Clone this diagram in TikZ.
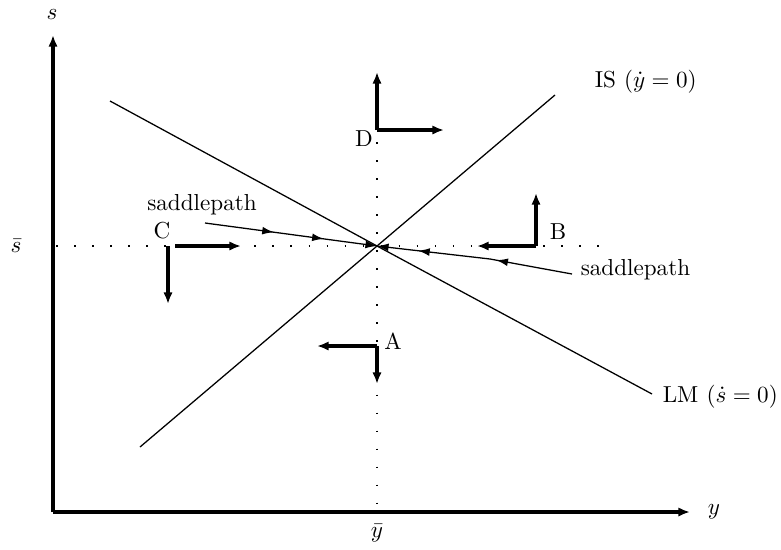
\documentclass[tikz,border=0pt]{standalone}
\usepackage{amsmath}
\usepackage{tikz}
\usetikzlibrary{arrows.meta,positioning,decorations.markings}

\begin{document}
\begin{tikzpicture}[
    x=0.152mm, y=-0.152mm,
    tip/.style={-{Latex[length=5pt,width=4pt]}},
    axis/.style={tip, line width=1.6pt},
    curve/.style={line width=0.55pt},
    guide/.style={line width=0.7pt, dash pattern=on 0.7pt off 7.1pt},
    motion/.style={tip, line width=1.4pt},
    spath/.style={curve, -{Latex[length=5pt,width=3.4pt]}, postaction={decorate}},
    lbl/.style={inner sep=1pt}
]
    \useasboundingbox (0,0) rectangle (781,549);

    % Axes
    \coordinate (O) at (53,512);
    \coordinate (E) at (377,246);
    \draw[axis] (O) -- (53,35);
    \draw[axis] (O) -- (690,512);
    \node[lbl] (slab) at (52,15) {$s$};
    \node[lbl] (ylab) at (714,512) {$y$};
    \node[lbl] (sbar) at (16,246) {$\bar{s}$};
    \node[lbl] (ybar) at (377,533) {$\bar{y}$};

    % Steady state guides
    \draw[guide] (56,246) -- (608,246);
    \draw[guide] (377,142) -- (377,512);

    % IS and LM curves
    \draw[curve] (140,447) -- (E) -- (555,95);
    \draw[curve] (110,101) -- (E) -- (652,394);
    \node[lbl, anchor=west] (islab) at (592,82) {IS\hspace{3.5pt}($\dot{y}=0$)};
    \node[lbl, anchor=west] (lmlab) at (660,397) {LM\hspace{3.5pt}($\dot{s}=0$)};

    % Saddle paths
    \draw[spath, decoration={markings,
        mark=at position 0.4 with {\arrow{Latex[length=5pt,width=3.4pt]}},
        mark=at position 0.69 with {\arrow{Latex[length=5pt,width=3.4pt]}}}]
        (205,223) -- (E);
    \draw[spath, decoration={markings,
        mark=at position 0.39 with {\arrow{Latex[length=5pt,width=3.4pt]}},
        mark=at position 0.79 with {\arrow{Latex[length=5pt,width=3.4pt]}}}]
        (572,274) -- (490,259) -- (E);
    \node[lbl] (spl) at (202,205) {saddlepath};
    \node[lbl, anchor=west] (spr) at (578,270) {saddlepath};

    % Motion in the four regions
    \coordinate (D) at (377,130);
    \draw[motion] (D) -- (377,72);
    \draw[motion] (D) -- (444,130);
    \node[lbl] (dlab) at (364,139) {D};

    \coordinate (B) at (536,246);
    \draw[motion] (B) -- (477,246);
    \draw[motion] (B) -- (536,193);
    \node[lbl] (blab) at (558,232) {B};

    \coordinate (C) at (168,246);
    \draw[motion] (175,246) -- (241,246);
    \draw[motion] (C) -- (168,304);
    \node[lbl] (clab) at (162,231) {C};

    \coordinate (A) at (377,346);
    \draw[motion] (A) -- (317,346);
    \draw[motion] (A) -- (377,384);
    \node[lbl] (alab) at (393,341) {A};
\end{tikzpicture}
\end{document}
